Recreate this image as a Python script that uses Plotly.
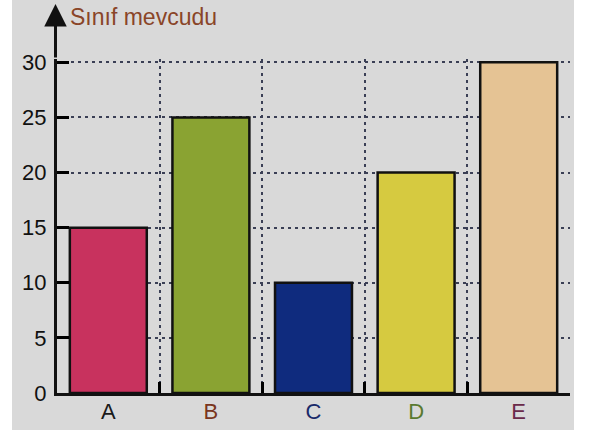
import plotly.graph_objects as go

categories = ["A", "B", "C", "D", "E"]
values = [15, 25, 10, 20, 30]
bar_colors = ["#c8325e", "#8aa332", "#0f2b7e", "#d6ca40", "#e5c394"]
label_colors = ["#1a1a1a", "#7a3520", "#1a2a6a", "#5a7a30", "#6a2a4a"]
y_ticks = [0, 5, 10, 15, 20, 25, 30]
y_title = "Sınıf mevcudu"

W, H = 591, 430
L, R, T, B = 57, 21, 59, 37
plot_w = W - L - R
plot_h = H - T - B


def px_x(p):
    return (p - L) / plot_w


def px_y(p):
    return (H - B - p) / plot_h


ticktext = [f"<span style='color:{c}'>{t}</span>" for t, c in zip(categories, label_colors)]

fig = go.Figure()
fig.add_trace(go.Bar(
    x=categories,
    y=values,
    width=0.75,
    marker=dict(color=bar_colors, line=dict(color="#111111", width=2.5)),
    hoverinfo="skip",
))

grid_color = "#3a3f55"
fig.update_layout(
    width=W, height=H,
    margin=dict(l=L, r=R, t=T, b=B, pad=0),
    paper_bgcolor="white",
    plot_bgcolor="rgba(0,0,0,0)",
    showlegend=False,
    font=dict(family="Liberation Sans, Arial, sans-serif", size=22, color="#111111"),
    xaxis=dict(
        type="category",
        tickvals=categories,
        ticktext=ticktext,
        tickson="boundaries",
        ticks="inside",
        ticklen=11,
        tickwidth=3,
        tickcolor="#000000",
        showline=True,
        linewidth=3,
        linecolor="#111111",
        showgrid=True,
        gridcolor=grid_color,
        gridwidth=2,
        griddash="3px,4px",
        layer="above traces",
        automargin=False,
        ticklabelstandoff=-3,
        fixedrange=True,
    ),
    yaxis=dict(
        range=[0, 30.3],
        tickvals=y_ticks,
        ticks="inside",
        ticklen=12,
        tickwidth=3,
        tickcolor="#000000",
        showline=True,
        linewidth=3,
        linecolor="#111111",
        showgrid=True,
        gridcolor=grid_color,
        gridwidth=2,
        griddash="3px,4px",
        zeroline=False,
        ticklabelstandoff=3,
        layer="above traces",
        automargin=False,
        fixedrange=True,
    ),
    shapes=[
        dict(type="rect", xref="paper", yref="paper", layer="below",
             x0=px_x(12), x1=px_x(574), y0=px_y(H + 5), y1=px_y(-5),
             fillcolor="#d9d9d9", line=dict(width=0)),
    ],
    annotations=[
        dict(xref="paper", yref="paper", x=px_x(55.5), y=px_y(4),
             ax=0, ay=55, axref="pixel", ayref="pixel",
             showarrow=True, arrowhead=2, arrowsize=1.5, arrowwidth=3,
             arrowcolor="#111111", text=""),
        dict(xref="paper", yref="paper", x=px_x(68), y=px_y(17),
             xanchor="left", yanchor="middle", showarrow=False,
             text=y_title,
             font=dict(size=23, color="#8a4528",
                       family="Liberation Sans, Arial, sans-serif")),
    ],
)

fig.write_html("out.html", config={"displayModeBar": False},
               post_script="document.body.style.margin='0px';document.body.style.overflow='hidden';")
